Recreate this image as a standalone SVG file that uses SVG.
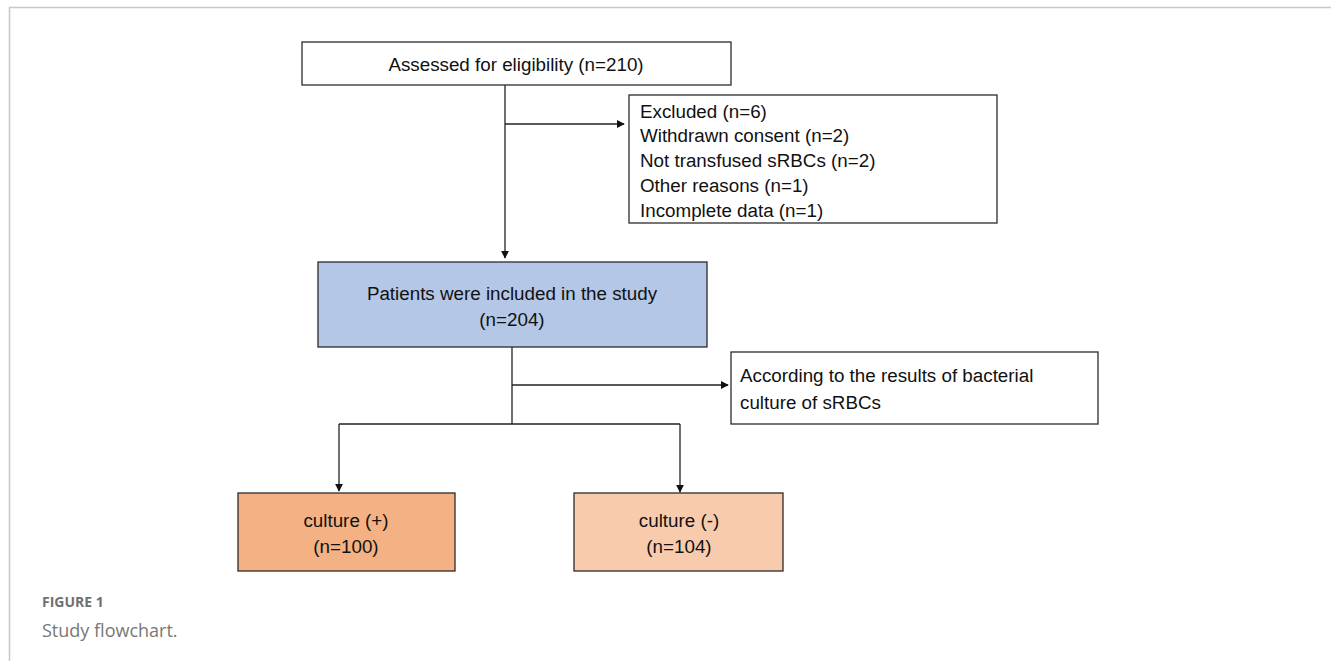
<svg xmlns="http://www.w3.org/2000/svg" width="1331" height="661" viewBox="0 0 1331 661">
<style>
.box{stroke:#2b2b2b;stroke-width:1.3}
.t{font-family:"Liberation Sans",Arial,sans-serif;font-size:18.8px;fill:#111}
.c{text-anchor:middle}
.ln{fill:none;stroke:#222;stroke-width:1.3}
</style>
<defs>
<marker id="ah" viewBox="0 0 10 10" refX="9" refY="5" markerWidth="8" markerHeight="8" markerUnits="userSpaceOnUse" orient="auto">
<path d="M0,0 L10,5 L0,10 z" fill="#111"/>
</marker>
</defs>
<rect x="0" y="0" width="1331" height="661" fill="#fff"/>
<path d="M9.5,661 V7.5 H1331" fill="none" stroke="#c8c8c8" stroke-width="1.5"/>
<g id="connectors">
<path class="ln" d="M505,85 V258" marker-end="url(#ah)"/>
<path class="ln" d="M505,124 H624" marker-end="url(#ah)"/>
<path class="ln" d="M512,347 V424"/>
<path class="ln" d="M512,385 H728" marker-end="url(#ah)"/>
<path class="ln" d="M339,424 H680"/>
<path class="ln" d="M339,424 V491" marker-end="url(#ah)"/>
<path class="ln" d="M680,424 V492" marker-end="url(#ah)"/>
</g>
<g id="assessed">
<rect class="box" x="302" y="42" width="429" height="43" fill="#fff"/>
<text class="t c" x="516" y="71">Assessed for eligibility (n=210)</text>
</g>
<g id="excluded">
<rect class="box" x="629" y="95" width="368" height="128" fill="#fff"/>
<text class="t" x="640" y="118">Excluded (n=6)</text>
<text class="t" x="640" y="142">Withdrawn consent (n=2)</text>
<text class="t" x="640" y="167">Not transfused sRBCs (n=2)</text>
<text class="t" x="640" y="192">Other reasons (n=1)</text>
<text class="t" x="640" y="217">Incomplete data (n=1)</text>
</g>
<g id="patients">
<rect class="box" x="318" y="262" width="389" height="85" fill="#b4c7e7"/>
<text class="t c" x="512" y="300">Patients were included in the study</text>
<text class="t c" x="512" y="326">(n=204)</text>
</g>
<g id="according">
<rect class="box" x="731" y="352" width="367" height="72" fill="#fff"/>
<text class="t" x="740" y="382">According to the results of bacterial</text>
<text class="t" x="740" y="409">culture of sRBCs</text>
</g>
<g id="culture-pos">
<rect class="box" x="238" y="493" width="217" height="78" fill="#f4b183"/>
<text class="t c" x="346" y="527">culture (+)</text>
<text class="t c" x="346" y="553">(n=100)</text>
</g>
<g id="culture-neg">
<rect class="box" x="574" y="493" width="209" height="78" fill="#f8cbad"/>
<text class="t c" x="679" y="527">culture (-)</text>
<text class="t c" x="679" y="553">(n=104)</text>
</g>
<g id="caption">
<text x="42" y="607" font-family="'Open Sans',sans-serif" font-size="14" font-weight="bold" fill="#707070">FIGURE 1</text>
<text x="42" y="637" font-family="'Open Sans',sans-serif" font-size="18" fill="#777">Study flowchart.</text>
</g>
</svg>
